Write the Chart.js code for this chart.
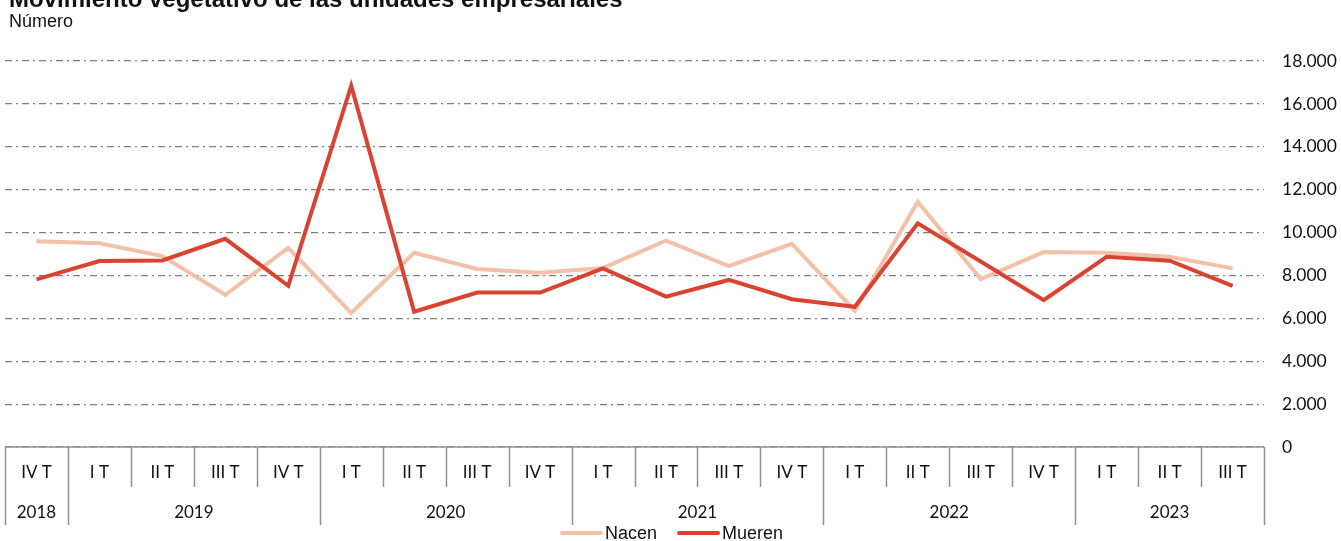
<!DOCTYPE html>
<html><head><meta charset="utf-8">
<script src="https://cdn.jsdelivr.net/npm/chart.js@4.4.1/dist/chart.umd.min.js"></script>
<style>html,body{margin:0;padding:0;background:#fff;overflow:hidden}#wrap{width:1341px;height:541px;position:relative}</style>
</head><body><div id="wrap"><canvas id="c" width="1341" height="541"></canvas></div>
<script>
const quarters = ['IV T','I T','II T','III T','IV T','I T','II T','III T','IV T','I T','II T','III T','IV T','I T','II T','III T','IV T','I T','II T','III T'];
const years = ['2018','2019','2020','2021','2022','2023'];
const yearSpans = [1,4,4,4,4,3];
const nacen  = [9600,9500,8900,7100,9280,6250,9060,8300,8130,8350,9620,8440,9470,6360,11440,7830,9090,9060,8870,8330];
const mueren = [7820,8670,8700,9710,7520,16850,6310,7200,7200,8330,7010,7790,6890,6540,10430,8650,6850,8870,8690,7510];
const seriesNames = ['Nacen','Mueren'];
const title = 'Movimiento vegetativo de las unidades empresariales';
const subtitle = 'Número';

const C_NACEN = '#f3c0a8', C_MUEREN = '#d9432f', C_GRID = '#7f7f7f';
const fmt = v => String(v).replace(/\B(?=(\d{3})+(?!\d))/g, '.');

const deco = {
  id: 'deco',
  beforeDatasetsDraw(chart) {
    const ctx = chart.ctx, xs = chart.scales.x, a = chart.chartArea;
    const w = xs.getPixelForValue(1) - xs.getPixelForValue(0);
    const bnd = i => xs.getPixelForValue(0) - w / 2 + i * w;
    ctx.save();
    ctx.strokeStyle = '#909090'; ctx.lineWidth = 1.5;
    ctx.beginPath(); ctx.moveTo(a.left, a.bottom); ctx.lineTo(a.right, a.bottom); ctx.stroke();
    const yearB = [0]; let acc = 0; yearSpans.forEach(s => { acc += s; yearB.push(acc); });
    for (let i = 0; i <= quarters.length; i++) {
      const x = Math.round(bnd(i)) + 0.5;
      const isYear = yearB.includes(i);
      ctx.beginPath(); ctx.moveTo(x, a.bottom); ctx.lineTo(x, isYear ? a.bottom + 78 : a.bottom + 40); ctx.stroke();
    }
    ctx.restore();
  },
  afterDraw(chart) {
    const ctx = chart.ctx, xs = chart.scales.x, a = chart.chartArea;
    const w = xs.getPixelForValue(1) - xs.getPixelForValue(0);
    const bnd = i => xs.getPixelForValue(0) - w / 2 + i * w;
    ctx.save();
    ctx.fillStyle = '#111';
    ctx.textAlign = 'center'; ctx.textBaseline = 'middle';
    ctx.font = '17px Lato';
    quarters.forEach((q, i) => ctx.fillText(q, xs.getPixelForValue(i), a.bottom + 26));
    let acc = 0;
    years.forEach((y, k) => {
      const c = (bnd(acc) + bnd(acc + yearSpans[k])) / 2;
      ctx.fillText(y, c, a.bottom + 66);
      acc += yearSpans[k];
    });
    // title
    ctx.textAlign = 'left'; ctx.textBaseline = 'alphabetic';
    ctx.font = 'bold 24px "Liberation Sans", Arial';
    ctx.fillText(title, 9, 7);
    ctx.font = '18px "Liberation Sans", Arial';
    ctx.fillText(subtitle, 9, 27);
    // legend
    const ly = 533;
    const items = [[seriesNames[0], C_NACEN, 562], [seriesNames[1], C_MUEREN, 679]];
    ctx.font = '18px "Liberation Sans", Arial';
    ctx.textBaseline = 'middle';
    items.forEach(([n, col, x0]) => {
      ctx.strokeStyle = col; ctx.lineWidth = 4; ctx.lineCap = 'round';
      ctx.beginPath(); ctx.moveTo(x0, ly); ctx.lineTo(x0 + 39, ly); ctx.stroke();
      ctx.fillStyle = '#111';
      ctx.fillText(n, x0 + 43, ly + 1);
    });
    ctx.restore();
  }
};

new Chart(document.getElementById('c'), {
  type: 'line',
  data: {
    labels: quarters,
    datasets: [
      { label: seriesNames[1], data: mueren, borderColor: C_MUEREN, backgroundColor: C_MUEREN, borderWidth: 4, pointRadius: 0, tension: 0, borderJoinStyle: 'miter', fill: false },
      { label: seriesNames[0], data: nacen, borderColor: C_NACEN, backgroundColor: C_NACEN, borderWidth: 4, pointRadius: 0, tension: 0, borderJoinStyle: 'miter', fill: false }
    ]
  },
  options: {
    responsive: false, animation: false, devicePixelRatio: 1,
    layout: { padding: { left: 5, top: 61, bottom: 94, right: 0 } },
    plugins: { legend: { display: false }, tooltip: { enabled: false }, title: { display: false } },
    scales: {
      x: { type: 'category', display: false, offset: true },
      y: {
        position: 'right', min: 0, max: 18000,
        afterFit: s => { s.width = 77; },
        ticks: { stepSize: 2000, padding: 18, color: '#111', font: { family: 'Lato', size: 17.5 }, callback: v => fmt(v) },
        grid: { color: C_GRID, lineWidth: 1.2, drawTicks: false },
        border: { display: false, dash: [7, 4, 2, 4] }
      }
    }
  },
  plugins: [deco]
});
</script></body></html>
